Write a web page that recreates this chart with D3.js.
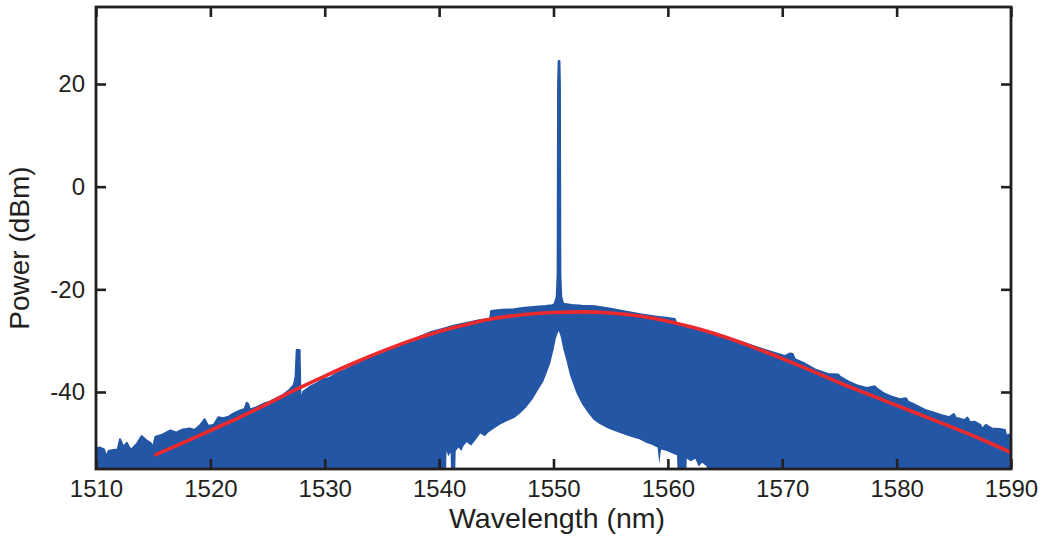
<!DOCTYPE html>
<html>
<head>
<meta charset="utf-8">
<script src="https://cdn.jsdelivr.net/npm/d3@7"></script>
<style>
  html, body { margin: 0; padding: 0; background: #fff; }
  svg text { font-family: "Liberation Sans", Arial, Helvetica, sans-serif; fill: #231f20; }
</style>
</head>
<body>
<svg id="chart" width="1045" height="541"></svg>
<script>
// ---------------- data ----------------
const xTicks = [1510, 1520, 1530, 1540, 1550, 1560, 1570, 1580, 1590];
const yTicks = [-40, -20, 0, 20];
const xDomain = [1510, 1590];
const yDomain = [-55, 35];

// upper envelope of the measured spectrum (wavelength nm, power dBm)
const specWl = [1509.6,1510.0,1510.3,1510.7,1510.9,1511.1,1511.5,1511.9,1512.1,1512.4,1512.7,1512.9,1513.1,1513.6,1514.0,1514.4,1514.8,1514.95,
  1515.2,1515.8,1516.5,1517.0,1517.6,1518.2,1518.6,1519.1,1519.5,1519.8,1520.3,1520.7,1521.1,1521.6,1522.0,1522.6,1523.0,1523.17,1523.3,1523.46,
  1524.0,1524.63,1525.2,1525.79,1526.4,1526.96,1527.3,1527.45,1527.55,1527.8,1527.88,1528.13,1528.71,1529.3,1529.88,1530.46,1531.04,1531.8,
  1532.5,1533.5,1534.5,1535.41,1536.5,1537.5,1538.33,1539.3,1540.3,1541.24,1542.5,1543.5,1544.45,1544.55,1545.5,1546.5,1547.5,1548.5,1549.3,
  1549.9,1550.1,1550.28,1550.36,1550.4,1550.45,1550.52,1550.56,1550.6,1550.68,1550.85,1551.6,1552.5,1553.6,1555.0,1556.5,1557.7,1558.9,1560.0,
  1560.6,1560.75,1562.0,1563.8,1565.2,1566.7,1568.5,1570.2,1570.7,1570.9,1571.1,1572.0,1572.86,1574.0,1574.9,1575.05,1575.8,1576.65,1577.4,
  1578.1,1578.26,1578.9,1579.57,1580.3,1580.8,1581.02,1581.8,1582.48,1583.2,1583.94,1584.6,1585.0,1585.2,1585.39,1585.9,1586.2,1586.4,1586.85,
  1587.3,1587.5,1587.8,1588.31,1589.0,1589.47,1589.6,1589.75,1590.2];
const specDbm = [-51.0,-51.0,-50.8,-51.2,-52.6,-51.5,-51.3,-51.2,-49.2,-50.7,-49.9,-50.8,-51.2,-50.0,-48.6,-49.4,-50.0,-51.0,
  -48.7,-48.3,-47.5,-47.9,-47.3,-47.1,-47.4,-46.5,-45.3,-46.6,-46.4,-44.9,-45.1,-44.8,-44.2,-43.6,-43.3,-42.1,-42.3,-43.4,
  -43.0,-42.3,-41.9,-41.2,-40.5,-39.5,-38.6,-37.0,-31.8,-31.8,-41.9,-39.9,-38.97,-38.3,-37.5,-37.2,-36.4,-35.7,
  -34.9,-33.9,-33.0,-32.2,-31.1,-30.1,-29.2,-28.3,-27.7,-27.1,-26.5,-26.0,-25.8,-24.2,-24.0,-23.9,-23.6,-23.4,-23.25,
  -23.1,-22.8,-21.5,-17.0,20.0,24.5,24.5,20.0,-17.0,-21.5,-22.8,-23.05,-23.2,-23.3,-23.8,-24.4,-24.9,-25.3,-25.6,
  -25.8,-26.7,-27.5,-28.6,-29.5,-30.5,-31.8,-33.0,-32.5,-32.6,-33.6,-34.5,-35.6,-36.5,-36.6,-37.0,-38.0,-38.8,-39.2,
  -38.9,-39.3,-40.3,-40.9,-41.4,-41.2,-41.9,-42.7,-43.5,-44.0,-44.5,-44.9,-44.3,-45.1,-45.1,-45.5,-45.0,-45.9,-45.8,
  -46.4,-47.2,-46.4,-47.1,-47.2,-47.4,-49.0,-48.3,-48.5];

// lower envelope near the pump (the empty "tent" under the spectrum)
const lowWl = [1540.55,1540.65,1540.8,1541.0,1541.1,1541.35,1541.45,1541.7,1541.95,1542.1,1542.4,1542.8,1543.2,1543.6,1544.0,1544.3,
  1544.74,1545.3,1546.0,1546.6,1547.07,1547.6,1548.2,1548.7,1549.1,1549.4,1549.7,1550.0,1550.2,1550.42,1550.48,1550.65,1550.85,1551.1,
  1551.45,1552.0,1552.5,1553.0,1553.5,1554.0,1554.6,1555.1,1555.7,1556.3,1556.9,1557.5,1558.1,1558.6,1559.1,1559.25,1559.4,1559.9,
  1560.4,1560.8,1560.9,1561.55,1561.65,1562.0,1562.4,1562.7,1563.0,1563.4,1563.55];
const lowDbm = [-60,-51.5,-52.5,-51.8,-60,-60,-51.5,-50.8,-51.5,-50.6,-49.8,-50.4,-49.3,-48.1,-48.6,-47.9,
  -47.2,-46.4,-45.6,-45.0,-44.2,-43.0,-41.3,-39.4,-38.0,-36.3,-34.5,-31.8,-29.6,-28.2,-28.2,-29.4,-31.6,-33.6,
  -36.8,-40.2,-42.4,-44.0,-45.4,-46.2,-46.9,-47.4,-47.9,-48.4,-48.8,-49.2,-49.9,-50.3,-50.8,-54.0,-51.2,-51.5,
  -52.0,-52.3,-60,-60,-53.0,-53.5,-53.0,-54.5,-53.8,-54.5,-60];

// fitted envelope (red)
const fitWl = [1515.1,1517.5,1520,1522.5,1525,1527.5,1530,1532.5,1535,1537.5,1540,1542.5,1545,1547.5,1550,1552.5,1555,1557.5,
  1560,1562.5,1565,1567.5,1570,1572.5,1575,1577.5,1580,1582.5,1585,1587.5,1590];
const fitDbm = [-52.3,-50.0,-47.5,-45.0,-42.3,-39.5,-36.9,-34.4,-32.1,-30.0,-28.2,-26.8,-25.6,-24.9,-24.5,-24.4,-24.6,-25.2,
  -26.2,-27.6,-29.3,-31.3,-33.5,-35.8,-38.2,-40.4,-42.6,-44.8,-47.0,-49.3,-51.8];

// ---------------- drawing ----------------
const svg = d3.select("#chart");
const L = 96, R = 1011, T = 7, B = 469;
const x = d3.scaleLinear().domain(xDomain).range([L, R]);
const y = d3.scaleLinear().domain(yDomain).range([B, T]);

const blue = "#2356a5", red = "#ec2a2e", ink = "#231f20";

svg.append("defs").append("clipPath").attr("id", "clip")
  .append("rect").attr("x", L).attr("y", T).attr("width", R - L).attr("height", B - T);

const plot = svg.append("g").attr("clip-path", "url(#clip)");

const spec = specWl.map((w, i) => [w, specDbm[i]]);
const low = lowWl.map((w, i) => [w, lowDbm[i]]);
const fit = fitWl.map((w, i) => [w, fitDbm[i]]);

plot.append("path").datum(spec)
  .attr("d", d3.area().x(d => x(d[0])).y0(B + 5).y1(d => y(d[1])))
  .attr("fill", blue);
plot.append("path").datum(spec)
  .attr("d", d3.line().x(d => x(d[0])).y(d => y(d[1])))
  .attr("fill", "none").attr("stroke", blue).attr("stroke-width", 2).attr("stroke-linejoin", "round");

plot.append("path").datum(low)
  .attr("d", d3.area().x(d => x(d[0])).y0(B + 5).y1(d => y(d[1])))
  .attr("fill", "#fff");

plot.append("path").datum(fit)
  .attr("d", d3.line().curve(d3.curveMonotoneX).x(d => x(d[0])).y(d => y(d[1])))
  .attr("fill", "none").attr("stroke", red).attr("stroke-width", 3.6).attr("stroke-linecap", "butt");

// axes (ticks inward on all four sides)
const fmt = d => String(d);
function styleAxis(g) {
  g.select(".domain").remove();
  g.selectAll(".tick line").attr("stroke", ink).attr("stroke-width", 2.6);
  g.selectAll(".tick text").style("font-size", "24px").attr("fill", ink);
}
svg.append("g").attr("transform", `translate(0,${B})`)
  .call(d3.axisBottom(x).tickValues(xTicks).tickSizeInner(-10).tickSizeOuter(0).tickPadding(11).tickFormat(fmt))
  .call(styleAxis);
svg.append("g").attr("transform", `translate(0,${T})`)
  .call(d3.axisTop(x).tickValues(xTicks).tickSizeInner(-10).tickSizeOuter(0).tickFormat(""))
  .call(styleAxis);
svg.append("g").attr("transform", `translate(${L},0)`)
  .call(d3.axisLeft(y).tickValues(yTicks).tickSizeInner(-10).tickSizeOuter(0).tickPadding(11).tickFormat(fmt))
  .call(styleAxis);
svg.append("g").attr("transform", `translate(${R},0)`)
  .call(d3.axisRight(y).tickValues(yTicks).tickSizeInner(-10).tickSizeOuter(0).tickFormat(""))
  .call(styleAxis);

svg.append("rect").attr("x", L).attr("y", T).attr("width", R - L).attr("height", B - T)
  .attr("fill", "none").attr("stroke", ink).attr("stroke-width", 2.8);

svg.append("text").attr("x", 557).attr("y", 528).attr("text-anchor", "middle")
  .style("font-size", "28.5px").text("Wavelength (nm)");
svg.append("text").attr("transform", `translate(29,${(T + B) / 2 + 10}) rotate(-90)`).attr("text-anchor", "middle")
  .style("font-size", "28px").text("Power (dBm)");
</script>
</body>
</html>
